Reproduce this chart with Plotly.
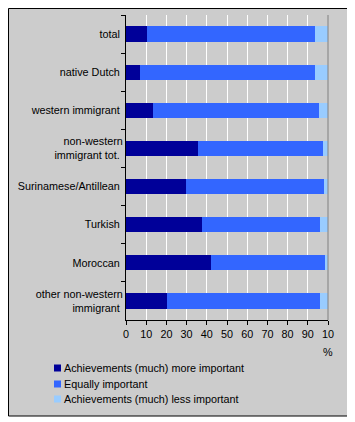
import plotly.graph_objects as go

categories = ["total", "native Dutch", "western immigrant", "non-western<br>immigrant tot.",
              "Surinamese/Antillean", "Turkish", "Moroccan", "other non-western<br>immigrant"]
more_important = [10.4, 7.1, 13.5, 35.4, 29.9, 37.4, 42.3, 20.5]
equally_important = [83.3, 86.3, 81.9, 62.0, 68.0, 58.5, 56.1, 75.4]
less_important = [6.3, 6.6, 4.6, 2.6, 2.1, 4.1, 1.6, 4.1]
series_names = ["Achievements (much) more important", "Equally important",
                "Achievements (much) less important"]
series_colors = ["#000099", "#3366FF", "#99CCFF"]
tick_vals = [0, 10, 20, 30, 40, 50, 60, 70, 80, 90, 100]
tick_text = ["0", "10", "20", "30", "40", "50", "60", "70", "80", "90", "10"]

FONT = "Liberation Sans, Arial, sans-serif"
FS = 10.8

# page offset of the plot div (browser body margin)
OFF = 8
FIG_W, FIG_H = 355 - OFF, 422 - OFF
# plot area in page pixels
L, R, T, B = 126 - OFF, 328 - OFF, 15 - OFF, 320 - OFF
W, H = R - L, B - T


def px(x):
    return (x - OFF - L) / W


def py(y):
    return (B - (y - OFF)) / H


fig = go.Figure()
for vals, name, col in zip([more_important, equally_important, less_important],
                           series_names, series_colors):
    fig.add_trace(go.Bar(y=categories, x=vals, orientation="h", name=name,
                         marker_color=col, marker_line_width=0))

shapes = [
    dict(type="rect", xref="paper", yref="paper",
         x0=px(8.5), x1=px(348), y0=py(416), y1=py(8.5),
         fillcolor="#CCCCCC", line=dict(color="black", width=1), layer="below"),
    dict(type="line", xref="paper", yref="paper", x0=1, x1=1, y0=0, y1=1,
         line=dict(color="#808080", width=1)),
]
annotations = [dict(text="%", xref="paper", yref="paper", x=px(328), y=py(352),
                    showarrow=False, xanchor="center", yanchor="middle",
                    font=dict(size=FS, family=FONT))]
legend_rows = [368, 384, 399]
for name, col, yc in zip(series_names, series_colors, legend_rows):
    shapes.append(dict(type="rect", xref="paper", yref="paper",
                       x0=px(54), x1=px(61), y0=py(yc + 3.5), y1=py(yc - 3.5),
                       fillcolor=col, line=dict(width=0)))
    annotations.append(dict(text=name, xref="paper", yref="paper", x=px(62), y=py(yc),
                            showarrow=False, xanchor="left", yanchor="middle",
                            font=dict(size=FS, family=FONT)))

fig.update_layout(
    width=FIG_W, height=FIG_H,
    barmode="stack", bargap=0.6,
    paper_bgcolor="white", plot_bgcolor="#CCCCCC",
    margin=dict(l=L, r=FIG_W - R, t=T, b=FIG_H - B, autoexpand=False),
    font=dict(family=FONT, size=FS, color="black"),
    showlegend=False,
    xaxis=dict(range=[0, 100], tickvals=tick_vals, ticktext=tick_text,
               showgrid=True, gridcolor="white", gridwidth=1,
               ticks="outside", ticklen=4, tickcolor="black",
               showline=True, linecolor="black", linewidth=1,
               zeroline=False, automargin=False),
    yaxis=dict(autorange="reversed", tickson="boundaries", ticks="outside", ticklen=4,
               tickcolor="black", showline=True, linecolor="black", linewidth=1,
               showgrid=False, ticksuffix=" ", automargin=False),
    shapes=shapes,
    annotations=annotations,
)

fig.write_html("out.html")
